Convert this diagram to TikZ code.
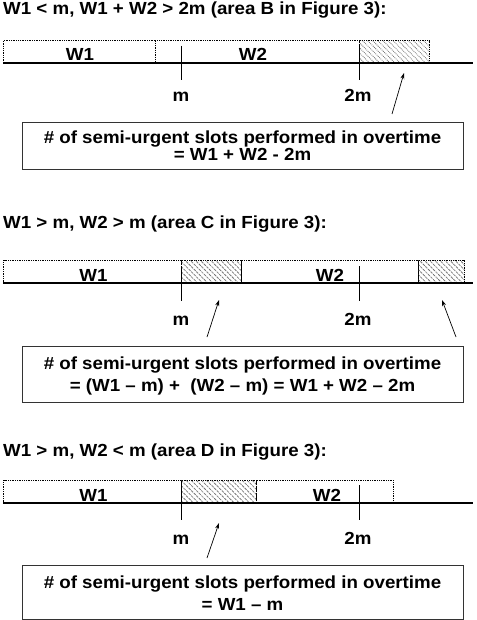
\documentclass[tikz,border=0pt]{standalone}
\usepackage{fontspec}
\setmainfont{Liberation Sans}[FakeStretch=1.07]
\usetikzlibrary{patterns.meta,arrows.meta}
\begin{document}
\begin{tikzpicture}[x=1pt,y=-1pt,
  font=\bfseries\fontsize{17.5}{20}\selectfont,
  wbox/.style={draw, densely dotted, line width=1.3pt, inner sep=0pt, anchor=south west, minimum height=22pt},
  hbox/.style={wbox, pattern={Lines[angle=-45,distance=3.6pt,line width=0.8pt]}, pattern color=black!55},
  axisline/.style={line width=1.6pt},
  tickline/.style={line width=0.8pt},
  sumbox/.style={draw=black!80, line width=0.9pt, minimum width=441pt, inner sep=0pt},
  arr/.style={-{Stealth[length=6pt,width=4pt]}, line width=0.7pt},
  txt/.style={inner sep=0pt, anchor=base},
  ttl/.style={inner sep=0pt, anchor=base west}]
\useasboundingbox (0,0) rectangle (476,620);

% ---------- Section 1 ----------
\node[ttl] (t1) at (3,14.7) {W1 < m, W1 + W2 > 2m (area B in Figure 3):};
\node[wbox, minimum width=152pt] (a1w1) at (3,63) {};
\node[wbox, minimum width=204pt] (a1w2) at (155,63) {};
\node[hbox, minimum width=70pt] (a1h) at (359,63) {};
\node[txt] (a1w1t) at (80,61) {W1};
\node[txt] (a1w2t) at (253,61) {W2};
\coordinate (a1l) at (3,63);
\coordinate (a1r) at (473,63);
\draw[axisline] (a1l) -- (a1r);
\coordinate (a1mt) at (181,46); \coordinate (a1mb) at (181,80);
\coordinate (a1nt) at (359,46); \coordinate (a1nb) at (359,80);
\draw[tickline] (a1mt) -- (a1mb);
\draw[tickline] (a1nt) -- (a1nb);
\node[txt] (a1m) at (181,102) {m};
\node[txt] (a1n) at (358,102) {2m};
\node[sumbox, minimum height=47pt] (s1) at (242.5,145.5) {};
\node[txt] (s1a) at (242.5,144) {\# of semi-urgent slots performed in overtime};
\node[txt] (s1b) at (242.5,161) {= W1 + W2 - 2m};
\coordinate (p1s) at (392,114); \coordinate (p1e) at (404,73);
\draw[arr] (p1s) -- (p1e);

% ---------- Section 2 ----------
\node[ttl] (t2) at (3,229) {W1 > m, W2 > m (area C in Figure 3):};
\node[wbox, minimum width=178pt] (a2w1) at (3,283) {};
\node[hbox, minimum width=60pt] (a2h1) at (181,283) {};
\node[wbox, minimum width=177pt] (a2w2) at (241,283) {};
\node[hbox, minimum width=46pt] (a2h2) at (418,283) {};
\node[txt] (a2w1t) at (93.5,281) {W1};
\node[txt] (a2w2t) at (330,281) {W2};
\coordinate (a2l) at (3,283);
\coordinate (a2r) at (473,283);
\draw[axisline] (a2l) -- (a2r);
\coordinate (a2mt) at (181,266); \coordinate (a2mb) at (181,301);
\coordinate (a2nt) at (359,266); \coordinate (a2nb) at (359,301);
\draw[tickline] (a2mt) -- (a2mb);
\draw[tickline] (a2nt) -- (a2nb);
\node[txt] (a2m) at (181,325) {m};
\node[txt] (a2n) at (358,325) {2m};
\node[sumbox, minimum height=56pt] (s2) at (242.5,374) {};
\node[txt] (s2a) at (242.5,369.5) {\# of semi-urgent slots performed in overtime};
\node[txt] (s2b) at (242.5,391) {= (W1 -- m) +\ \ (W2 -- m) = W1 + W2 -- 2m};
\coordinate (p2s) at (207,337); \coordinate (p2e) at (219,300);
\coordinate (p3s) at (456,337); \coordinate (p3e) at (442,300);
\draw[arr] (p2s) -- (p2e);
\draw[arr] (p3s) -- (p3e);

% ---------- Section 3 ----------
\node[ttl] (t3) at (3,456) {W1 > m, W2 < m (area D in Figure 3):};
\node[wbox, minimum width=178pt] (a3w1) at (3,503) {};
\node[hbox, minimum width=75pt] (a3h) at (181,503) {};
\node[wbox, minimum width=137pt] (a3w2) at (256,503) {};
\node[txt] (a3w1t) at (93.5,501) {W1};
\node[txt] (a3w2t) at (327,501) {W2};
\coordinate (a3l) at (3,503);
\coordinate (a3r) at (473,503);
\draw[axisline] (a3l) -- (a3r);
\coordinate (a3mt) at (181,485); \coordinate (a3mb) at (181,520);
\coordinate (a3nt) at (359,485); \coordinate (a3nb) at (359,520);
\draw[tickline] (a3mt) -- (a3mb);
\draw[tickline] (a3nt) -- (a3nb);
\node[txt] (a3m) at (181,544) {m};
\node[txt] (a3n) at (358,544) {2m};
\node[sumbox, minimum height=54pt] (s3) at (242.5,592) {};
\node[txt] (s3a) at (242.5,588.3) {\# of semi-urgent slots performed in overtime};
\node[txt] (s3b) at (242.5,610.7) {= W1 -- m};
\coordinate (p4s) at (207,558); \coordinate (p4e) at (219,523);
\draw[arr] (p4s) -- (p4e);
\end{tikzpicture}
\end{document}
